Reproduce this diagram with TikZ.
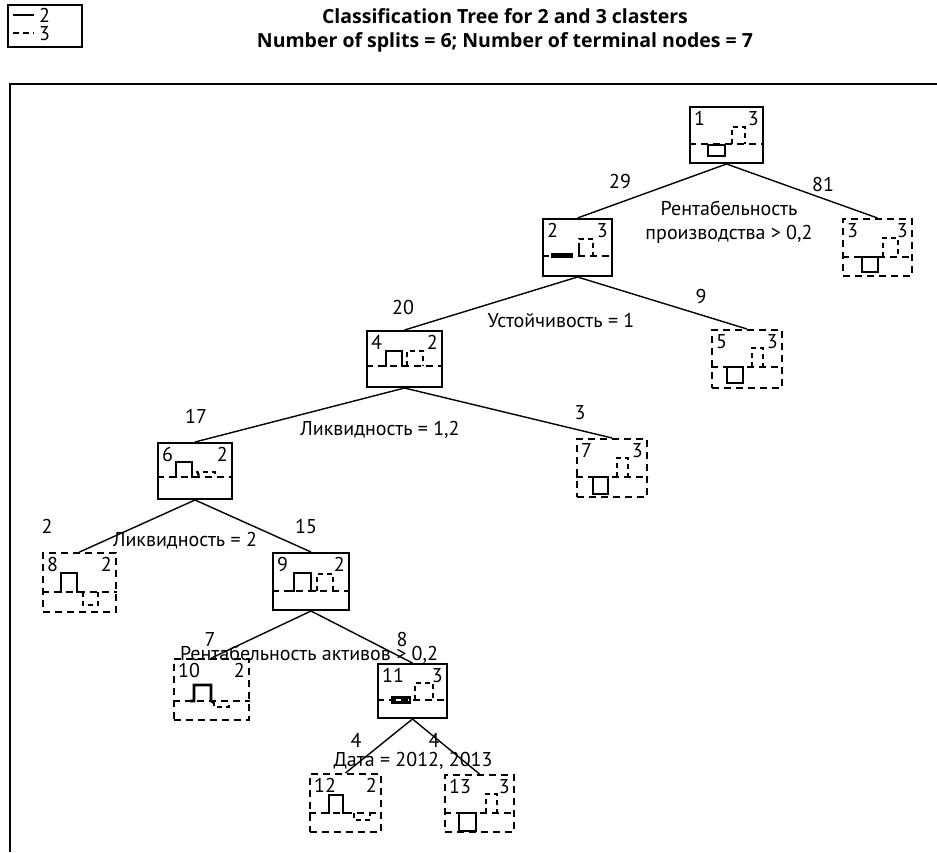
\documentclass[tikz,border=0pt]{standalone}
\usepackage{fontspec}
\setmainfont{PT Sans}
\newfontfamily\ttlfont{Open Sans}
\usetikzlibrary{calc}
\begin{document}
\begin{tikzpicture}[x=1pt,y=-1pt,
  sbox/.style={draw, line width=2pt, inner sep=0pt},
  dbox/.style={draw, line width=2pt, dash pattern=on 7pt off 5pt, inner sep=0pt},
  edge/.style={line width=1.4pt},
  hs/.style={line width=2.6pt},
  hd/.style={line width=2.4pt, dash pattern=on 5pt off 4pt},
  mid/.style={line width=1.8pt, dash pattern=on 7pt off 5pt},
  lbl/.style={font=\fontsize{20}{22}\selectfont, inner sep=0pt},
  ttl/.style={font=\fontsize{19.5}{22}\selectfont\ttlfont\bfseries, inner sep=0pt}]
\useasboundingbox (0,0) rectangle (937,852);
% legend
\node[draw, line width=1.4pt, minimum width=74pt, minimum height=42pt, inner sep=0pt] (leg) at (45,26) {};
\coordinate (la1) at (13,15); \coordinate (la2) at (34,15);
\coordinate (lb1) at (13,33); \coordinate (lb2) at (34,33);
\draw[line width=1.6pt] (la1) -- (la2);
\draw[line width=1.6pt, dash pattern=on 6pt off 4pt] (lb1) -- (lb2);
\node[lbl, anchor=west] (leg2) at (39,15) {2};
\node[lbl, anchor=west] (leg3) at (39,34) {3};
% title
\node[ttl] (t1) at (505,16) {Classification Tree for 2 and 3 clasters};
\node[ttl] (t2) at (505,42) {Number of splits = 6; Number of terminal nodes = 7};
% frame
\coordinate (fa) at (10,852); \coordinate (fb) at (10,84); \coordinate (fc) at (937,84);
\draw[line width=1.6pt] (fa) -- (fb) -- (fc);
% nodes
\node[sbox, minimum width=73pt, minimum height=56pt] (n1) at (726.5,135) {};
\node[sbox, minimum width=69pt, minimum height=57pt] (n2) at (577.5,247.5) {};
\node[dbox, minimum width=69pt, minimum height=57pt] (n3) at (877.5,247.5) {};
\node[sbox, minimum width=75pt, minimum height=56pt] (n4) at (404.5,359) {};
\node[dbox, minimum width=70pt, minimum height=58pt] (n5) at (747,359) {};
\node[sbox, minimum width=74pt, minimum height=56pt] (n6) at (195,471) {};
\node[dbox, minimum width=70pt, minimum height=58pt] (n7) at (612,468) {};
\node[dbox, minimum width=73pt, minimum height=59pt] (n8) at (79.5,582.5) {};
\node[sbox, minimum width=76pt, minimum height=57pt] (n9) at (311,581.5) {};
\node[dbox, minimum width=75pt, minimum height=61pt] (n10) at (211.5,689.5) {};
\node[sbox, minimum width=69pt, minimum height=54pt] (n11) at (412.5,691) {};
\node[dbox, minimum width=71pt, minimum height=58pt] (n12) at (345.5,803) {};
\node[dbox, minimum width=69pt, minimum height=57pt] (n13) at (479.5,803.5) {};
% node labels
\foreach \n/\a/\b in {n1/1/3, n2/2/3, n3/3/3, n4/4/2, n5/5/3, n6/6/2, n7/7/3, n8/8/2, n9/9/2, n10/10/2, n11/11/3, n12/12/2, n13/13/3}{
  \node[lbl, anchor=north west] (\n id) at ($(\n.north west)+(5,5)$) {\a};
  \node[lbl, anchor=north east] (\n cl) at ($(\n.north east)+(-5,5)$) {\b};
}
% middle dashed lines
\foreach \n/\y in {n1/144, n2/256, n3/257, n4/366, n5/367, n6/477, n7/477, n8/592, n9/591, n10/701, n11/700, n12/813, n13/813}{
  \draw[mid] (\n.west |- 0,\y) -- (\n.east |- 0,\y);
}
% histograms
\draw[hs] (708,145) rectangle (725,156);
\draw[hd] (732,144)--(732,127)--(745,127)--(745,144);
\fill (551,253) rectangle (573,258);
\draw[hs] (579,248)--(579,256);
\draw[hd] (579,248)--(579,239)--(593,239)--(593,256);
\draw[hs] (862,257) rectangle (878,272);
\draw[hd] (883,257)--(883,238)--(898,238)--(898,257);
\draw[hs] (382,366)--(386,366)--(386,351)--(402,351)--(402,366)--(406,366);
\draw[hd] (407,366)--(407,351)--(423,351)--(423,366);
\draw[hs] (727,367) rectangle (743,383);
\draw[hd] (752,367)--(752,348)--(763,348)--(763,367);
\draw[hs] (172,477)--(176,477)--(176,462)--(192,462)--(192,477)--(196,477);
\draw[hd] (197,471)--(199,476);
\draw[hd] (203,472)--(215,472)--(215,477);
\draw[hs] (593,477) rectangle (608,494);
\draw[hd] (617,477)--(617,458)--(628,458)--(628,477);
\draw[hs] (58,592)--(61,592)--(61,573)--(77,573)--(77,592)--(80,592);
\draw[hd] (83,592)--(83,605)--(98,605)--(98,592);
\draw[hs] (290,591)--(294,591)--(294,573)--(311,573)--(311,591)--(316,591);
\draw[hd] (317,591)--(317,574)--(333,574)--(333,591);
\draw[hs] (190,701)--(194,701)--(194,685)--(211,685)--(211,701)--(214,703);
\draw[hd] (214,701)--(214,707)--(229,707)--(229,701);
\draw[hs] (392,697.5) rectangle (410,702.5);
\draw[hd] (415,700)--(415,683)--(433,683)--(433,700);
\draw[hs] (324,813)--(329,813)--(329,795)--(343,795)--(343,813)--(347,813);
\draw[hd] (354,813)--(354,820)--(370,820)--(370,813);
\draw[hs] (459,813) rectangle (476,831);
\draw[hd] (486,813)--(486,794)--(497,794)--(497,813);
% edges
\draw[edge] (n1.south) -- (n2.north);
\draw[edge] (n1.south) -- (n3.north);
\draw[edge] (n2.south) -- (n4.north);
\draw[edge] (n2.south) -- (n5.north);
\draw[edge] (n4.south) -- (n6.north);
\draw[edge] (n4.south) -- (n7.north);
\draw[edge] (n6.south) -- (n8.north);
\draw[edge] (n6.south) -- (n9.north);
\draw[edge] (n9.south) -- (n10.north);
\draw[edge] (n9.south) -- (n11.north);
\draw[edge] (n11.south) -- (n12.north);
\draw[edge] (n11.south) -- (n13.north);
% edge labels
\node[lbl] (c2) at (620,181) {29};
\node[lbl] (c3) at (823,184) {81};
\node[lbl] (s1a) at (729,208) {Рентабельность};
\node[lbl] (s1b) at (729,234) {производства > 0,2};
\node[lbl] (c4) at (403,307) {20};
\node[lbl] (c5) at (701,296) {9};
\node[lbl] (s2) at (561,320) {Устойчивость = 1};
\node[lbl] (c6) at (196,416) {17};
\node[lbl] (c7) at (580,413) {3};
\node[lbl] (s4) at (380,430) {Ликвидность = 1,2};
\node[lbl] (c8) at (47,526) {2};
\node[lbl] (c9) at (306,526) {15};
\node[lbl] (s6) at (185,541) {Ликвидность = 2};
\node[lbl] (c10) at (210,639) {7};
\node[lbl] (c11) at (402,639) {8};
\node[lbl] (s9) at (309,655) {Рентабельность активов > 0,2};
\node[lbl] (c12) at (356,740) {4};
\node[lbl] (c13) at (434,740) {4};
\node[lbl] (s11) at (413,761) {Дата = 2012, 2013};
\end{tikzpicture}
\end{document}
